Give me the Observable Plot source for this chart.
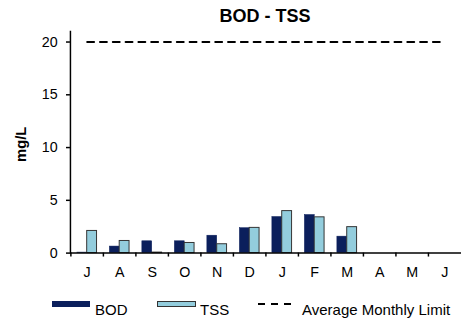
<!DOCTYPE html>
<html><head><meta charset="utf-8">
<script src="https://cdn.jsdelivr.net/npm/d3@7"></script>
<script src="https://cdn.jsdelivr.net/npm/@observablehq/plot@0.6"></script>
<style>
html,body{margin:0;padding:0;background:#fff;overflow:hidden;}
#wrap{position:relative;width:461px;height:320px;overflow:hidden;font-family:"Liberation Sans",Arial,sans-serif;color:#000}
#title{position:absolute;left:165px;width:200px;top:7px;text-align:center;font-weight:bold;font-size:18px;line-height:18px;white-space:nowrap}
#chart{position:absolute;left:0;top:30px}
#legend{position:absolute;left:0;top:290px}
</style>
</head><body>
<div id="wrap">
  <div id="title"></div>
  <div id="chart"></div>
  <svg id="legend" width="461" height="30"></svg>
</div>
<script>
const chartTitle = "BOD - TSS";
const yLabel = "mg/L";
const months = ["Jul","Aug","Sep","Oct","Nov","Dec","Jan","Feb","Mar","Apr","May","Jun"];
const monthLabels = ["J","A","S","O","N","D","J","F","M","A","M","J"];
const bod = [0.05, 0.62, 1.12, 1.12, 1.65, 2.36, 3.42, 3.61, 1.56, null, null, null];
const tss = [2.10, 1.15, 0.05, 0.96, 0.84, 2.39, 3.98, 3.39, 2.46, null, null, null];
const limit = [20, 20, 20, 20, 20, 20, 20, 20, 20, 20, 20, 20];
const yTicks = [0, 5, 10, 15, 20];
const seriesNames = ["BOD", "TSS", "Average Monthly Limit"];

const colBOD = "#0b1f5c";
const colTSS = "#93cddd";
const colTSSStroke = "#333333";

document.getElementById("title").textContent = chartTitle;

const W = 468, ML = 71, MR = 0;
const step = (W - ML - MR) / months.length;

const chart = Plot.plot({
  width: W,
  height: 256,
  marginLeft: ML,
  marginRight: MR,
  marginTop: 1,
  marginBottom: 30,
  style: {fontFamily: '"Liberation Sans", Arial, sans-serif', fontSize: "14.5px", color: "#000", background: "#fff", overflow: "visible"},
  x: {type: "band", domain: months, paddingInner: 0.7, paddingOuter: 0.35, label: null},
  y: {domain: [0, 21], label: null},
  marks: [
    Plot.barY(bod, {x: (d, i) => months[i], y: d => d, dx: -5, fill: colBOD, stroke: colBOD, strokeWidth: 0.5}),
    Plot.barY(tss, {x: (d, i) => months[i], y: d => d, dx: 5, fill: colTSS, stroke: colTSSStroke, strokeWidth: 1}),
    Plot.lineY(limit, {x: (d, i) => months[i], y: d => d, stroke: "#000", strokeWidth: 2, strokeDasharray: "7,6"}),
    Plot.ruleY([0], {stroke: "#000", strokeWidth: 1.5}),
    Plot.frame({anchor: "left", stroke: "#000", strokeWidth: 1.5}),
    Plot.axisX({tickSize: 4, fill: "none", dx: -step / 2, stroke: "#000", strokeWidth: 1.5, label: null}),
    Plot.axisX({tickSize: 0, tickPadding: 14, tickFormat: d => monthLabels[months.indexOf(d)], label: null, fontSize: 14.5}),
    Plot.axisY({ticks: yTicks, tickSize: 4, tickPadding: 9, stroke: "#000", strokeWidth: 1.5, label: null, fontSize: 14.5}),
    Plot.text([yLabel], {frameAnchor: "left", textAnchor: "middle", dx: -50, dy: 2, rotate: -90, fontWeight: "bold", fontSize: 15, fill: "#000"})
  ]
});
document.getElementById("chart").appendChild(chart);

// legend
const lg = d3.select("#legend");
lg.append("rect").attr("x", 52).attr("y", 11).attr("width", 38).attr("height", 6).attr("fill", colBOD);
lg.append("text").attr("x", 95).attr("y", 25).attr("font-size", 15).text(seriesNames[0]);
lg.append("rect").attr("x", 157.5).attr("y", 11.5).attr("width", 38).attr("height", 5).attr("fill", colTSS).attr("stroke", colTSSStroke).attr("stroke-width", 1);
lg.append("text").attr("x", 200).attr("y", 25).attr("font-size", 15).text(seriesNames[1]);
lg.append("line").attr("x1", 258).attr("x2", 292).attr("y1", 14).attr("y2", 14).attr("stroke", "#000").attr("stroke-width", 2).attr("stroke-dasharray", "7,6");
lg.append("text").attr("x", 302).attr("y", 25).attr("font-size", 15).text(seriesNames[2]);
lg.selectAll("text").attr("font-family", '"Liberation Sans", Arial, sans-serif').attr("fill", "#000");
</script>
</body></html>
